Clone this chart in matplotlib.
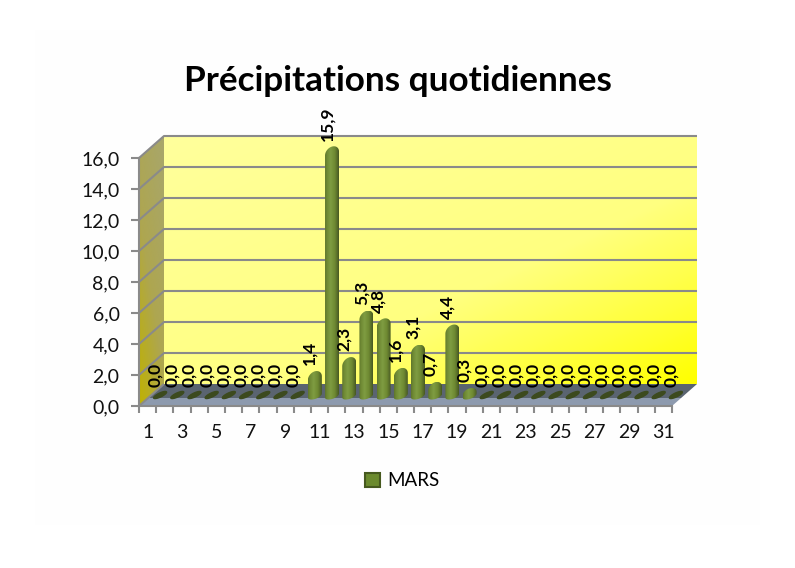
import numpy as np
import matplotlib
matplotlib.use("Agg")
import matplotlib.pyplot as plt
from matplotlib.colors import LinearSegmentedColormap
from matplotlib.patches import Polygon, Patch, Rectangle

days = list(range(1, 32))
values = [0.0, 0.0, 0.0, 0.0, 0.0, 0.0, 0.0, 0.0, 0.0, 1.4, 15.9, 2.3, 5.3, 4.8, 1.6,
          3.1, 0.7, 4.4, 0.3, 0.0, 0.0, 0.0, 0.0, 0.0, 0.0, 0.0, 0.0, 0.0, 0.0, 0.0, 0.0]
y_ticks = [0, 2, 4, 6, 8, 10, 12, 14, 16]
series_name = "MARS"
title = "Précipitations quotidiennes"

W, H = 795, 568
plt.rcParams["font.family"] = ["Lato", "DejaVu Sans"]

fig = plt.figure(figsize=(W / 100, H / 100), dpi=100)
# very faint panel behind everything
fig.patches.append(Rectangle((35 / W, 1 - 525 / H), 725 / W, 495 / H, transform=fig.transFigure,
                             facecolor="#fefefe", edgecolor="none", zorder=-5))
ax = fig.add_axes([139 / W, 1 - 406 / H, 533 / W, 248 / H])
ax.patch.set_visible(False)

# size of one pixel in data units, used for the fake 3d offsets
px = 31 / 533
py = 16 / 248
dx = 25 * px
dy = 22 * py


def gradient_fill(poly, colors, angle):
    """fill a polygon (data coords) with a linear gradient, angle=(ax, ay) in the unit box"""
    poly = np.array(poly)
    x0, y0 = poly.min(axis=0)
    x1, y1 = poly.max(axis=0)
    u, v = np.meshgrid(np.linspace(0, 1, 120), np.linspace(1, 0, 120))
    t = u * angle[0] + v * angle[1]
    t = (t - t.min()) / (t.max() - t.min())
    cmap = LinearSegmentedColormap.from_list("g", colors)
    im = ax.imshow(t, extent=[x0, x1, y0, y1], cmap=cmap, aspect="auto", interpolation="bilinear", zorder=1)
    patch = Polygon(poly, closed=True, transform=ax.transData, facecolor="none", edgecolor="none")
    im.set_clip_box(fig.bbox)
    im.set_clip_path(patch)
    return im


# back wall
gradient_fill([(dx, dy), (31 + dx, dy), (31 + dx, 16 + dy), (dx, 16 + dy)],
              [(0, "#ffff9c"), (0.6, "#ffff80"), (0.85, "#ffff34"), (1, "#ffff00")], (1, -1))
# side wall
gradient_fill([(0, 0), (dx, dy), (dx, 16 + dy), (0, 16)],
              [(0, "#bfb200"), (0.45, "#aea650"), (1, "#a8a66c")], (0.6, 1))
# floor, dark part then lighter front band
front = 8 * py
ax.add_patch(Polygon([(dx, dy), (31 + dx, dy), (31 + dx * front / dy, front), (dx * front / dy, front)],
                     facecolor="#5a6470", edgecolor="none", zorder=1.5, clip_on=False))
ax.add_patch(Polygon([(dx * front / dy, front), (31 + dx * front / dy, front), (31, 0), (0, 0)],
                     facecolor="#8d9aae", edgecolor="none", zorder=1.5, clip_on=False))

# grid on side wall and back wall
for v in y_ticks:
    lx = [0, dx, 31 + dx]
    ly = [v, v + dy, v + dy]
    if v == 0:
        lx, ly = [0, dx], [0, dy]
    ax.plot(lx, ly, color="#8a8a8a", lw=1.5, zorder=2, clip_on=False, solid_capstyle="butt")

bar_cmap = [(0, "#5f752c"), (0.15, "#6f8a34"), (0.4, "#7f9c42"), (0.7, "#6f8a32"), (0.9, "#55692a"), (1, "#46581f")]
half_w = 7 * px
base_y = 7 * py

for day, val in zip(days, values):
    xc = day - 0.5 + 12.5 * px
    top = base_y + val + 6 * py
    if val == 0:
        # zero values are only a flat slanted disc on the floor
        t = np.linspace(0, 2 * np.pi, 60)
        ex = xc + 6.5 * px * np.cos(t)
        ey = base_y + 4 * py + 2.2 * py * np.sin(t) + 2.8 * py * np.cos(t)
        ax.fill(ex, ey, color="#3c4a1e", zorder=3, clip_on=False)
    else:
        h = min(7 * py, (top - base_y) / 2)
        s = 4 * py
        t_top = np.linspace(np.pi, 0, 30)
        t_bot = np.linspace(0, -np.pi, 30)
        ox = np.r_[xc + half_w * np.cos(t_top), xc + half_w * np.cos(t_bot)]
        oy = np.r_[top - h + h * np.sin(t_top) + s * np.cos(t_top) * 0.5,
                   base_y + 3.5 * py + 3.5 * py * np.sin(t_bot) + s * np.cos(t_bot) * 0.5]
        gradient_fill(np.c_[ox, oy], bar_cmap, (1, 0)).set_zorder(3)
    ax.text(xc - 5 * px, top + 6 * py, f"{val:.1f}".replace(".", ","), rotation=90, ha="center", va="bottom",
            fontsize=12.5, fontweight="bold", color="black", zorder=4, clip_on=False)

ax.set_xlim(0, 31)
ax.set_ylim(0, 16)

ax.set_yticks(y_ticks)
ax.set_yticklabels([f"{v:.1f}".replace(".", ",") for v in y_ticks])
ax.set_xticks(range(32))
ax.set_xticklabels([])
ax.set_xticks([d - 0.5 for d in days], labels=[str(d) if d % 2 else "" for d in days], minor=True)
ax.tick_params(axis="x", which="major", length=5, width=1.5, color="#8a8a8a")
ax.tick_params(axis="x", which="minor", length=0, pad=13, labelsize=14, labelcolor="#111111")
ax.tick_params(axis="y", length=6, width=1.5, color="#8a8a8a", labelsize=14, labelcolor="#111111", pad=8)
for side in ("top", "right"):
    ax.spines[side].set_visible(False)
for side in ("left", "bottom"):
    ax.spines[side].set_color("#8a8a8a")
    ax.spines[side].set_linewidth(1.5)
    ax.spines[side].set_zorder(2.5)

fig.text(398 / W, 1 - 91 / H, title, ha="center", va="baseline", fontsize=25.3, fontweight="bold", color="black")

fig.legend(handles=[Patch(facecolor="#6b8a2e", edgecolor="#46591f", linewidth=1.5, label=series_name)],
           loc="center", bbox_to_anchor=(402 / W, 1 - 481 / H), frameon=False, fontsize=13.5,
           handlelength=0.8, handleheight=0.8, handletextpad=0.4)

fig.savefig("out.png", dpi=100)
